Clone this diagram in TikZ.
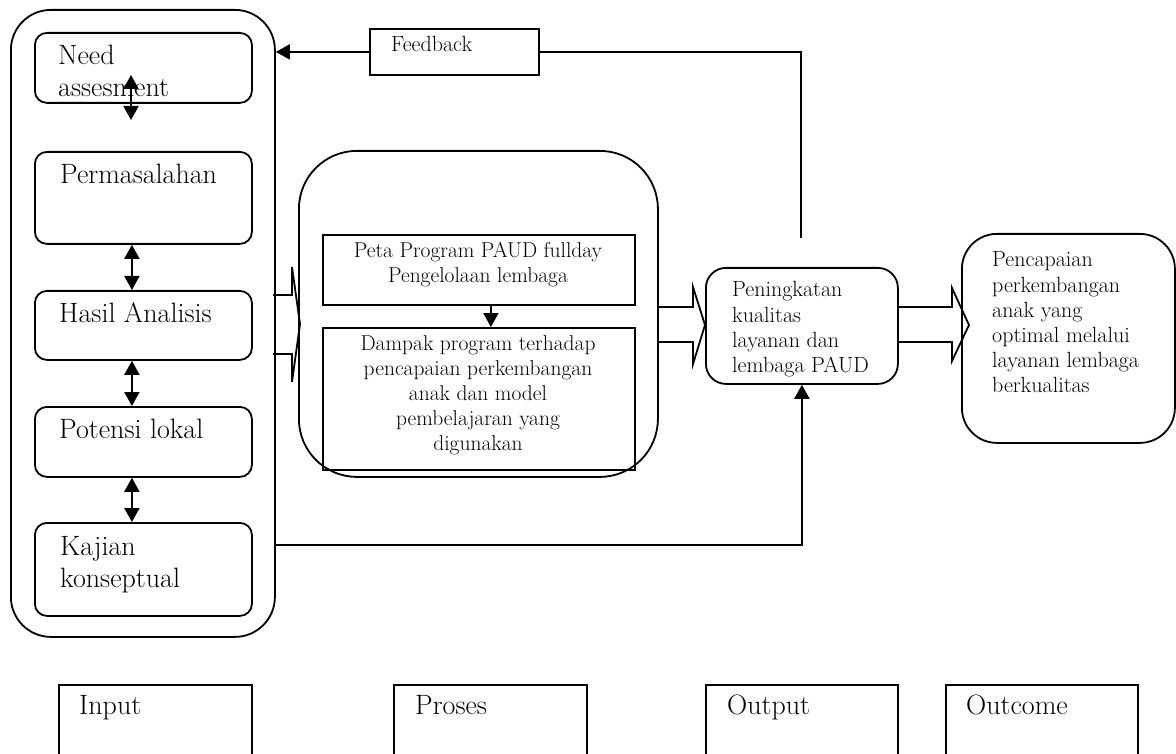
\documentclass[tikz,border=0pt]{standalone}
\usepackage{fontspec}
\usetikzlibrary{arrows.meta}
\tikzset{
  rbox/.style={draw, line width=1.8pt, rounded corners=#1, inner sep=0pt, anchor=north west},
  sbox/.style={draw, line width=1.8pt, inner sep=0pt, anchor=north west},
  bigtxt/.style={inner sep=0pt, anchor=base west, font=\fontsize{28}{32}\selectfont},
  midtxt/.style={inner sep=0pt, anchor=base, font=\fontsize{21.5}{25}\selectfont},
  smalltxt/.style={inner sep=0pt, anchor=base west, font=\fontsize{22}{25}\selectfont},
  conn/.style={line width=1.8pt},
  hollow/.style={line width=1.8pt, line join=miter},
  dbl/.style={line width=2pt, {Triangle[width=15pt,length=14pt]}-{Triangle[width=15pt,length=14pt]}},
  sgl/.style={line width=2pt, -{Triangle[width=15pt,length=14pt]}}
}
\begin{document}
\begin{tikzpicture}[x=1pt, y=-1pt]
\useasboundingbox (0,0) rectangle (1176,754);

% ---------- Input column ----------
\node[rbox=40pt, minimum width=264pt, minimum height=627pt] (inbox) at (10,9) {};
\node[rbox=12pt, minimum width=217pt, minimum height=70pt] (need) at (34,32) {};
\node[rbox=12pt, minimum width=217pt, minimum height=92pt] (perm) at (34,151) {};
\node[rbox=12pt, minimum width=217pt, minimum height=69pt] (hasil) at (34,290) {};
\node[rbox=12pt, minimum width=217pt, minimum height=70pt] (pot) at (34,406) {};
\node[rbox=12pt, minimum width=217pt, minimum height=93pt] (kaj) at (34,522) {};

\node[bigtxt] (tneed1) at (58,65) {Need};
\node[bigtxt] (tneed2) at (58,97) {assesment};
\node[bigtxt] (tperm) at (60,184) {Permasalahan};
\node[bigtxt] (thasil) at (59,322) {Hasil Analisis};
\node[bigtxt] (tpot) at (59,438) {Potensi lokal};
\node[bigtxt] (tkaj1) at (60,555) {Kajian};
\node[bigtxt] (tkaj2) at (60,587) {konseptual};

\coordinate (a1s) at (131,75);
\coordinate (a1e) at (131,120);
\draw[dbl] (a1s) -- (a1e);
\draw[dbl] ([xshift=-11.5pt]perm.south) -- ([xshift=-11.5pt]hasil.north);
\draw[dbl] ([xshift=-11.5pt]hasil.south) -- ([xshift=-11.5pt]pot.north);
\draw[dbl] ([xshift=-11.5pt]pot.south) -- ([xshift=-11.5pt]kaj.north);

% ---------- Process ----------
\node[rbox=58pt, minimum width=359pt, minimum height=326pt] (proc) at (298,150) {};
\node[sbox, minimum width=312pt, minimum height=70pt] (peta) at (322,234) {};
\node[sbox, minimum width=312pt, minimum height=142pt] (dampak) at (322,327) {};
\draw[sgl] ([xshift=12pt]peta.south) -- ([xshift=12pt]dampak.north);

\node[midtxt] (tp1) at (478,258) {Peta Program PAUD fullday};
\node[midtxt] (tp2) at (478,283) {Pengelolaan lembaga};
\node[midtxt] (td1) at (478,350) {Dampak program terhadap};
\node[midtxt] (td2) at (478,375) {pencapaian perkembangan};
\node[midtxt] (td3) at (478,400) {anak dan model};
\node[midtxt] (td4) at (478,425) {pembelajaran yang};
\node[midtxt] (td5) at (478,450) {digunakan};

% ---------- Output / Outcome ----------
\node[rbox=20pt, minimum width=192pt, minimum height=116pt] (penin) at (705,267) {};
\node[smalltxt] (tn1) at (732,297) {Peningkatan};
\node[smalltxt] (tn2) at (732,322) {kualitas};
\node[smalltxt] (tn3) at (732,347) {layanan dan};
\node[smalltxt] (tn4) at (732,372) {lembaga PAUD};

\node[rbox=35pt, minimum width=213pt, minimum height=209pt] (outc) at (961,233) {};
\node[smalltxt] (to1) at (992,267) {Pencapaian};
\node[smalltxt] (to2) at (992,292) {perkembangan};
\node[smalltxt] (to3) at (992,317) {anak yang};
\node[smalltxt] (to4) at (992,342) {optimal melalui};
\node[smalltxt] (to5) at (992,367) {layanan lembaga};
\node[smalltxt] (to6) at (992,392) {berkualitas};

% ---------- Hollow arrows ----------
\draw[hollow] (273,295) -- (292,295) -- (292,267) -- (300,324) -- (292,382) -- (292,354) -- (273,354);
\draw[hollow] (657,307) -- (693,307) -- (693,287) -- (705,325) -- (693,364) -- (693,342) -- (657,342);
\draw[hollow] (897,307) -- (952,307) -- (952,288) -- (969,325) -- (952,361) -- (952,342) -- (897,342);

% ---------- Feedback ----------
\node[sbox, fill=white, minimum width=169pt, minimum height=46pt] (fb) at (369,28) {};
\node[smalltxt] (tfb) at (391,52) {Feedback};
\coordinate (fbstart) at (801,238);
\draw[conn] (fbstart) |- (fb.east);
\draw[sgl] (fb.west) -- (fb.west -| inbox.east);

% ---------- Bottom connector ----------
\coordinate (kajout) at (274,545);
\draw[sgl] (kajout) -| (penin.south);

% ---------- Legend ----------
\node[sbox, minimum width=193pt, minimum height=70pt] (lin) at (58,684) {};
\node[sbox, minimum width=193pt, minimum height=70pt] (lpr) at (393,684) {};
\node[sbox, minimum width=192pt, minimum height=70pt] (lout) at (705,684) {};
\node[sbox, minimum width=192pt, minimum height=70pt] (loc) at (945,684) {};
\node[bigtxt] (tin) at (79,714) {Input};
\node[bigtxt] (tpr) at (415,714) {Proses};
\node[bigtxt] (tout) at (727,714) {Output};
\node[bigtxt] (toc) at (966,714) {Outcome};
\end{tikzpicture}
\end{document}
